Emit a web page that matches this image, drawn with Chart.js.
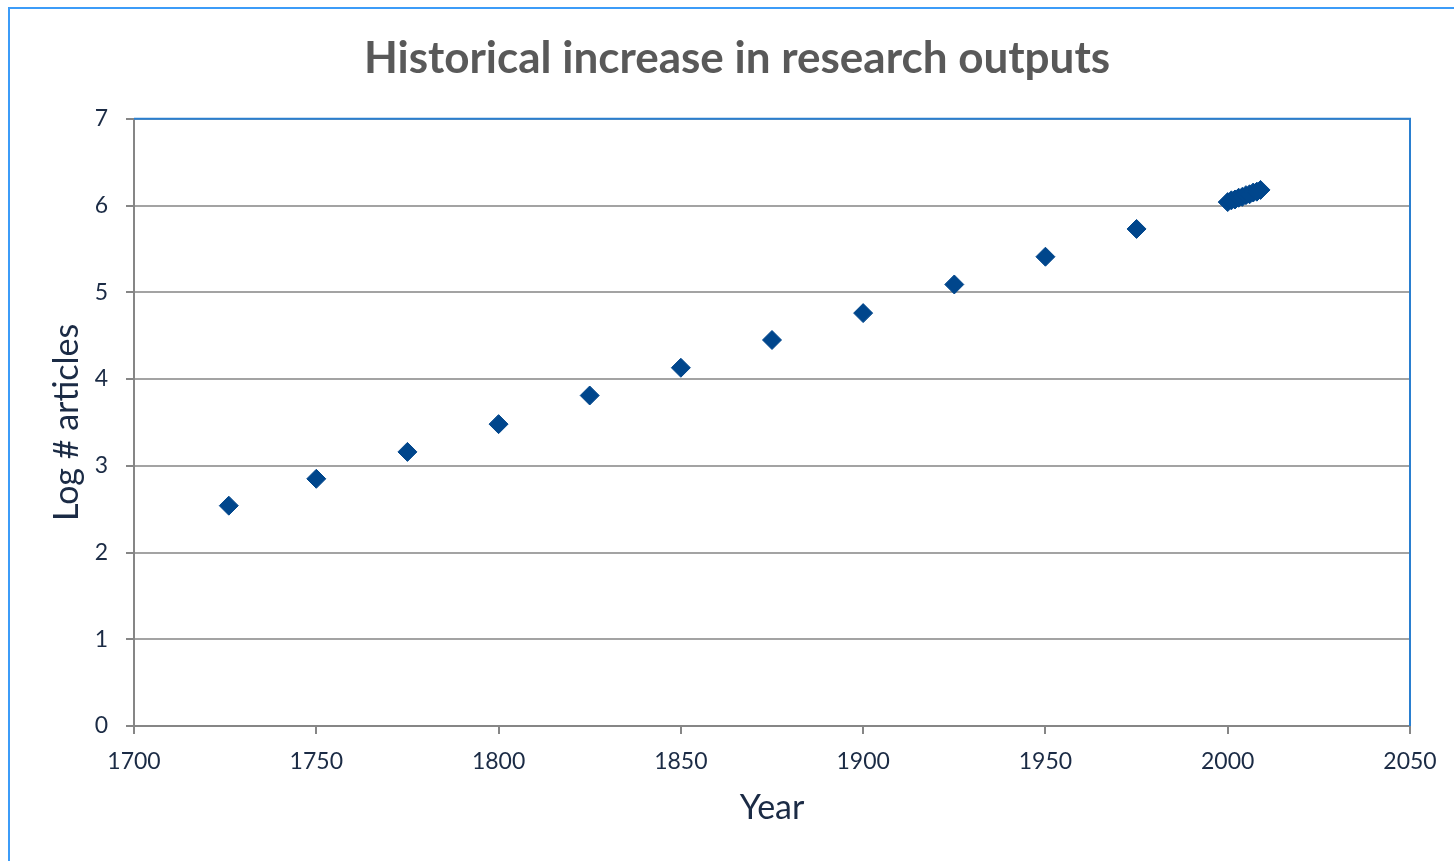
<!DOCTYPE html>
<html>
<head>
<meta charset="utf-8">
<script src="https://cdn.jsdelivr.net/npm/chart.js@4.4.1/dist/chart.umd.min.js"></script>
<style>
  body { margin: 0; background: #fff; overflow: hidden; }
  #frame { position: absolute; left: 8px; top: 7px; width: 1500px; height: 900px; border: 2px solid #3c9cf8; }
  #chart { position: absolute; left: 0; top: 0; }
</style>
</head>
<body>
<div id="frame"></div>
<canvas id="chart" width="1454" height="861"></canvas>
<script>
"use strict";

// years and log10 of article counts
var years = [1726, 1750, 1775, 1800, 1825, 1850, 1875, 1900, 1925, 1950, 1975,
             2000, 2001, 2002, 2003, 2004, 2005, 2006, 2007, 2008, 2009];
var logArticles = [2.54, 2.85, 3.16, 3.48, 3.81, 4.13, 4.45, 4.76, 5.09, 5.41, 5.73,
                   6.04, 6.06, 6.07, 6.09, 6.10, 6.12, 6.13, 6.15, 6.16, 6.18];
var xTicks = [1700, 1750, 1800, 1850, 1900, 1950, 2000, 2050];
var yTicks = [0, 1, 2, 3, 4, 5, 6, 7];

var points = years.map(function(y, i) {
    return { x: y, y: logArticles[i] };
});

var labelColor = "#1b2b45";
var gridGray = "#a3a3a3";
var axisGray = "#868686";

// top and right edge of the plot area are blue in the original
var plotFrame = {
    id: "plotFrame",
    afterDraw: function(chart) {
        var a = chart.chartArea;
        var ctx = chart.ctx;
        ctx.save();
        ctx.strokeStyle = "#2a7fd0";
        ctx.lineWidth = 2;
        ctx.beginPath();
        ctx.moveTo(a.left, a.top);
        ctx.lineTo(a.right, a.top);
        ctx.lineTo(a.right, a.bottom);
        ctx.stroke();
        ctx.restore();
    }
};

new Chart(document.getElementById("chart"), {
    type: "scatter",
    data: {
        datasets: [{
            label: "Log # articles",
            data: points,
            backgroundColor: "#00468c",
            borderColor: "#00468c",
            borderWidth: 1,
            pointStyle: "rectRot",
            pointRadius: 9.5,
            pointHoverRadius: 9.5
        }]
    },
    options: {
        responsive: false,
        animation: false,
        devicePixelRatio: 1,
        layout: {
            padding: { left: 64, right: 44, top: 0, bottom: 0 }
        },
        plugins: {
            legend: { display: false },
            tooltip: { enabled: false },
            title: {
                display: true,
                text: "Historical increase in research outputs",
                color: "#595959",
                font: { family: "Lato", size: 44, weight: "bold", lineHeight: 1.2 },
                padding: { top: 32, bottom: 34 }
            }
        },
        scales: {
            x: {
                type: "linear",
                min: 1700,
                max: 2050,
                afterFit: function(scale) { scale.height = 135; },
                afterBuildTicks: function(scale) {
                    scale.ticks = xTicks.map(function(v) { return { value: v }; });
                },
                ticks: {
                    color: labelColor,
                    font: { family: "Lato", size: 23 },
                    padding: 14,
                    maxRotation: 0,
                    callback: function(v) { return String(v); }
                },
                grid: {
                    drawOnChartArea: false,
                    drawTicks: true,
                    tickLength: 8,
                    color: axisGray,
                    lineWidth: 2
                },
                border: { color: axisGray, width: 2 },
                title: {
                    display: true,
                    text: "Year",
                    color: labelColor,
                    font: { family: "Lato", size: 34 },
                    padding: { top: 0, bottom: 33 }
                }
            },
            y: {
                type: "linear",
                min: 0,
                max: 7,
                afterFit: function(scale) { scale.width = 70; },
                afterBuildTicks: function(scale) {
                    scale.ticks = yTicks.map(function(v) { return { value: v }; });
                },
                ticks: {
                    color: labelColor,
                    font: { family: "Lato", size: 23 },
                    padding: 18
                },
                grid: {
                    color: gridGray,
                    lineWidth: 2,
                    tickLength: 8,
                    tickColor: axisGray
                },
                border: { color: axisGray, width: 2 },
                title: {
                    display: true,
                    text: "Log # articles",
                    color: labelColor,
                    font: { family: "Lato", size: 34 },
                    padding: { top: -17, bottom: 0 }
                }
            }
        }
    },
    plugins: [plotFrame]
});
</script>
</body>
</html>
